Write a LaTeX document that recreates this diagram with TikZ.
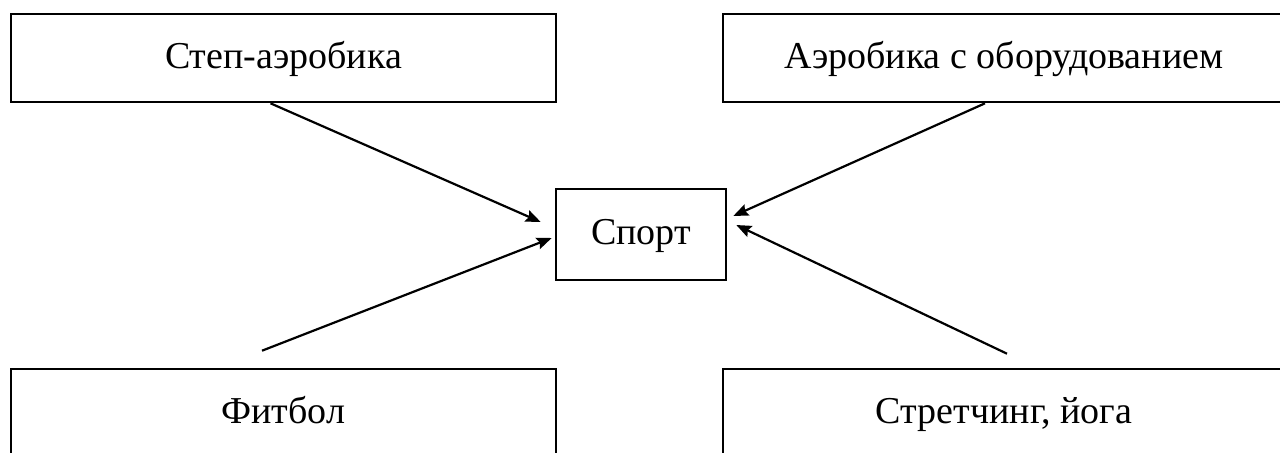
\documentclass[tikz,border=0pt]{standalone}
\usepackage{fontspec}
\setmainfont{Liberation Serif}
\usetikzlibrary{arrows.meta, positioning, calc}

\begin{document}
\begin{tikzpicture}[x=0.5pt, y=-0.5pt,
    box/.style={draw, line width=1.3pt, minimum width=272.5pt, minimum height=44pt,
      inner sep=0pt, text height=13pt, text depth=3pt, font=\fontsize{19}{23}\selectfont},
    wide/.style={box, minimum width=281pt},
    link/.style={line width=1.1pt, -{Stealth[length=7.5pt, width=6pt, inset=1.2pt]}}]
        \clip (0,0) rectangle (1280,452);

        % outer boxes
        \node[box] (step) at (283.5,58) {Степ-аэробика};
        \node[wide] (aero) at (1004,58) {Аэробика с оборудованием};
        \node[box] (fitball) at (283.5,413) {Фитбол};
        \node[wide] (stretch) at (1004,413) {Стретчинг, йога};

        % centre
        \node[box, minimum width=85pt, minimum height=45.5pt] (sport) at (641,234.5) {Спорт};

        % arrows into the centre
        \draw[link] ($(step.south)+(-13,0)$) -- ($(sport.west)+(-14,-12.5)$);
        \draw[link] ($(fitball.north)+(-21.5,-17)$) -- ($(sport.west)+(-3,3.5)$);
        \draw[link] ($(aero.south)+(-19,0)$) -- ($(sport.east)+(6,-18.5)$);
        \draw[link] ($(stretch.north)+(3,-14)$) -- ($(sport.east)+(9,-9.5)$);
\end{tikzpicture}
\end{document}
